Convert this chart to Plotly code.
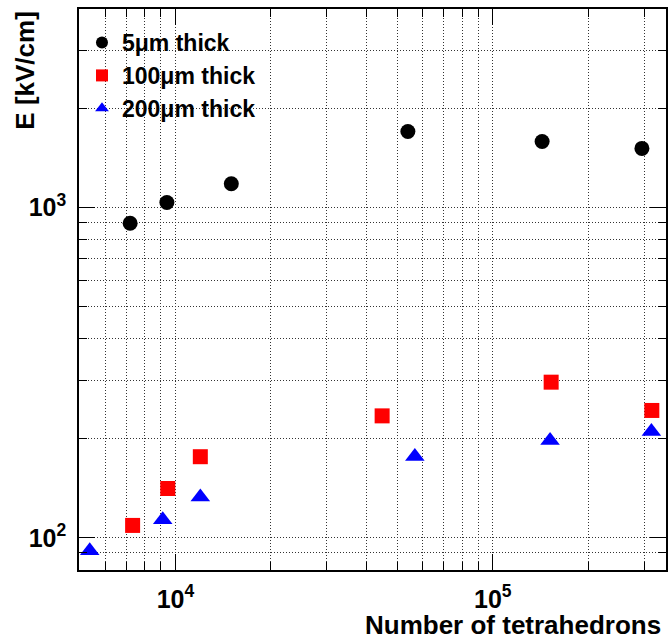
import plotly.graph_objects as go

# ---- data ----
x_5um = [7200, 9400, 15000, 54000, 143000, 295000]
y_5um = [897, 1036, 1181, 1700, 1586, 1511]

x_100um = [7330, 9460, 11980, 44800, 152700, 317000]
y_100um = [109, 141, 176, 234, 296, 243]

x_200um = [5370, 9120, 11980, 56800, 151500, 316000]
y_200um = [91.3, 113.4, 133.0, 176.2, 197.1, 210.0]

names = ["5\u03bcm thick", "100\u03bcm thick", "200\u03bcm thick"]

x_major = [1e4, 1e5]
x_major_text = ["10<sup>4</sup>", "10<sup>5</sup>"]
y_major = [1e2, 1e3]
y_major_text = ["10<sup>2</sup>", "10<sup>3</sup>"]

x_title = "Number of tetrahedrons"
y_title = "E [kV/cm]"

# minor tick values (2..9 x decade)
x_minor = [m * 10 ** e for e in range(3, 6) for m in range(2, 10)]
y_minor = [m * 10 ** e for e in range(1, 4) for m in range(2, 10)]

FONT = "Liberation Sans"
GRIDC = "#333333"
GRIDDASH = "1px,2px"

fig = go.Figure()
fig.add_trace(go.Scatter(x=x_5um, y=y_5um, mode="markers", name=names[0],
                         marker=dict(symbol="circle", size=15, color="#000000")))
fig.add_trace(go.Scatter(x=x_100um, y=y_100um, mode="markers", name=names[1],
                         marker=dict(symbol="square", size=15, color="#ff0000")))
fig.add_trace(go.Scatter(x=x_200um, y=y_200um, mode="markers", name=names[2],
                         marker=dict(symbol="triangle-up", size=17, color="#0000ff")))

axis_common = dict(
    type="log", ticks="inside", ticklen=16, tickwidth=1, tickcolor="black",
    showline=True, linecolor="black", linewidth=1.5, mirror="ticks",
    showgrid=True, gridcolor=GRIDC, griddash=GRIDDASH, gridwidth=1,
    zeroline=False, tickmode="array",
    tickfont=dict(family=FONT, size=25, color="black", weight="bold"),
)

fig.update_xaxes(**axis_common, range=[3.6962, 5.5457],
                 tickvals=x_major, ticktext=x_major_text,
                 minor=dict(tickmode="array", tickvals=x_minor, ticks="inside", ticklen=8,
                            tickwidth=1, tickcolor="black", showgrid=True,
                            gridcolor=GRIDC, griddash=GRIDDASH, gridwidth=1),
                 ticklabelstandoff=6)
fig.update_yaxes(**axis_common, range=[1.9024, 3.6015],
                 tickvals=y_major, ticktext=y_major_text,
                 minor=dict(tickmode="array", tickvals=y_minor, ticks="inside", ticklen=8,
                            tickwidth=1, tickcolor="black", showgrid=True,
                            gridcolor=GRIDC, griddash=GRIDDASH, gridwidth=1),
                 ticklabelstandoff=6)

fig.update_layout(
    width=671, height=639,
    margin=dict(l=79, r=3, t=9, b=69),
    paper_bgcolor="white", plot_bgcolor="white",
    showlegend=True,
    legend=dict(x=0.0051, y=0.9785, xanchor="left", yanchor="top",
                bgcolor="rgba(0,0,0,0)", borderwidth=0,
                font=dict(family=FONT, size=23, color="black", weight="bold"),
                itemsizing="constant", tracegroupgap=0),
    annotations=[
        dict(text=x_title, xref="paper", yref="paper", x=0.9949, y=-0.068,
             xanchor="right", yanchor="top", showarrow=False,
             font=dict(family=FONT, size=26, color="black", weight="bold")),
        dict(text=y_title, xref="paper", yref="paper", x=-0.0934, y=1.0,
             xanchor="center", yanchor="top", textangle=-90, showarrow=False,
             font=dict(family=FONT, size=26, color="black", weight="bold")),
    ],
)

fig.write_html("out.html")
